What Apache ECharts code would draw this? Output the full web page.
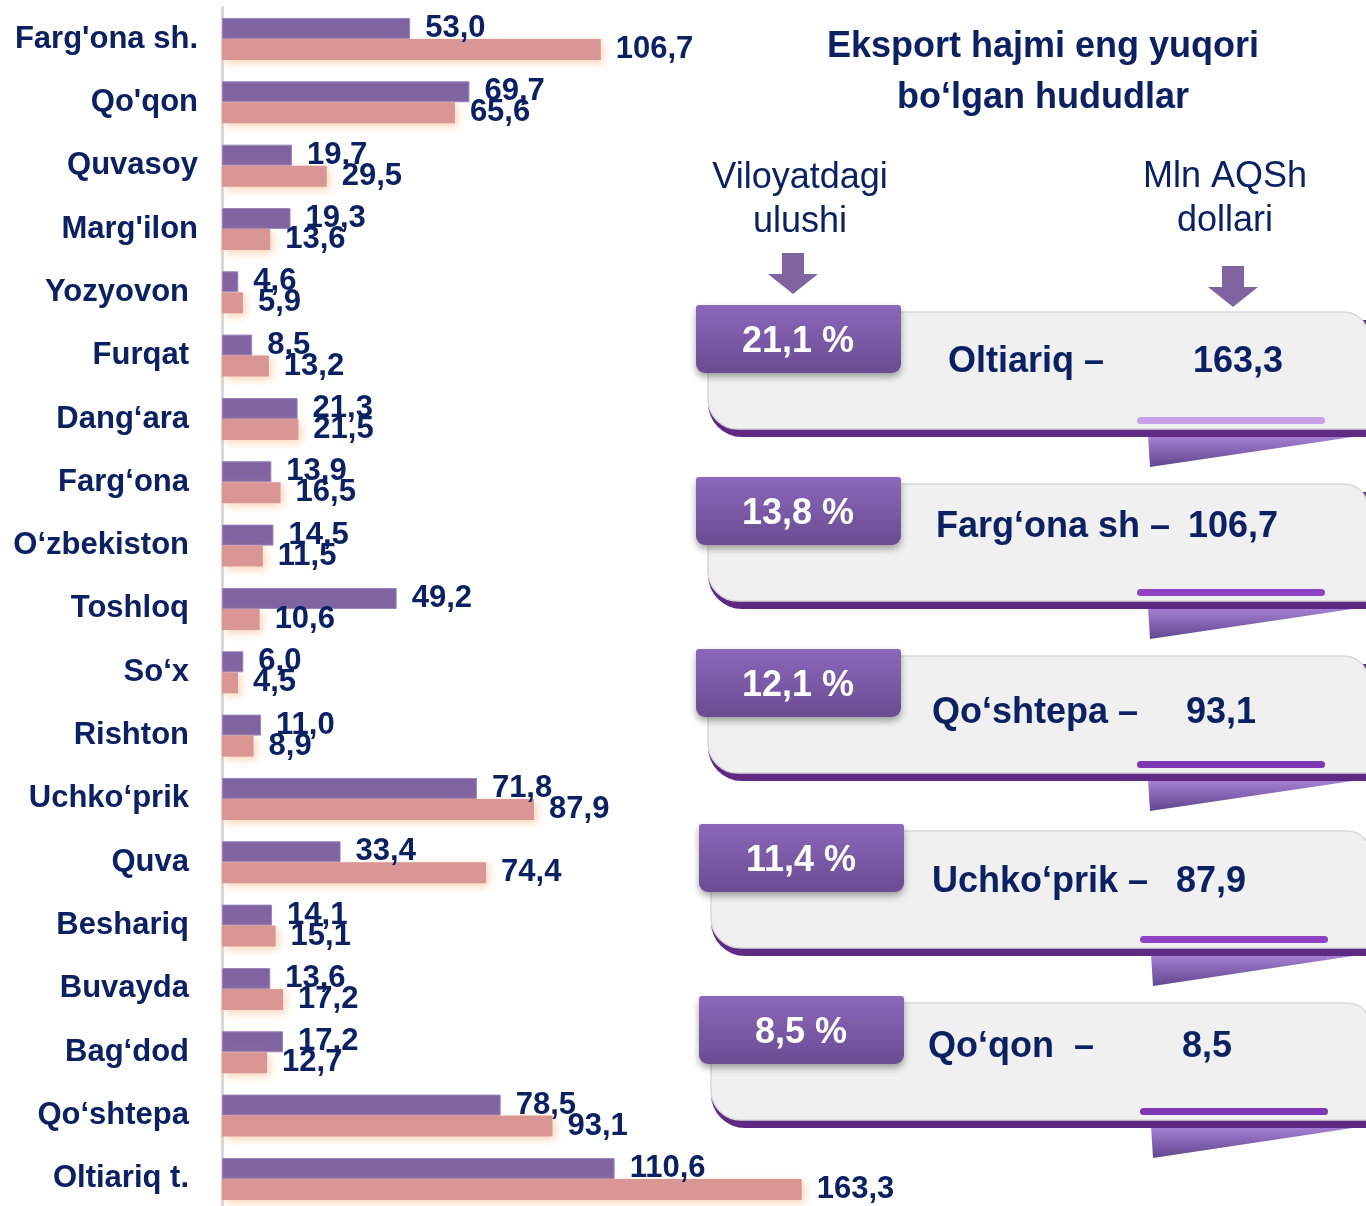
<!DOCTYPE html>
<html>
<head>
<meta charset="utf-8">
<title>Eksport hajmi</title>
<script src="https://cdn.jsdelivr.net/npm/echarts@6/dist/echarts.min.js"></script>
<style>
  html, body { margin: 0; padding: 0; background: #fff; }
  #main { width: 1366px; height: 1206px; }
</style>
</head>
<body>
<div id="main"></div>
<script>
  // hududlar (yuqoridan pastga)
  var regions = ["Farg'ona sh.", "Qo'qon", 'Quvasoy', "Marg'ilon", 'Yozyovon', 'Furqat', 'Dang‘ara',
    'Farg‘ona', 'O‘zbekiston', 'Toshloq', 'So‘x', 'Rishton', 'Uchko‘prik', 'Quva', 'Beshariq',
    'Buvayda', 'Bag‘dod', 'Qo‘shtepa', 'Oltiariq t.'];
  var prevValues = [53.0, 69.7, 19.7, 19.3, 4.6, 8.5, 21.3, 13.9, 14.5, 49.2, 6.0, 11.0, 71.8, 33.4, 14.1, 13.6, 17.2, 78.5, 110.6];
  var currValues = [106.7, 65.6, 29.5, 13.6, 5.9, 13.2, 21.5, 16.5, 11.5, 10.6, 4.5, 8.9, 87.9, 74.4, 15.1, 17.2, 12.7, 93.1, 163.3];

  // eng yuqori hududlar
  var topNames = ['Oltiariq', 'Farg‘ona sh', 'Qo‘shtepa', 'Uchko‘prik', 'Qo‘qon'];
  var topValues = [163.3, 106.7, 93.1, 87.9, 8.5];
  var topShares = [21.1, 13.8, 12.1, 11.4, 8.5];

  var navy = '#0B2162';
  var font = "'Liberation Sans', Arial, sans-serif";

  function fmt(v) {
    return v.toFixed(1).replace('.', ',');
  }

  // kartochkalar joylashuvi
  var cardTop = [305, 477, 649, 824, 996];
  var nameX = [948, 936, 932, 932, 928];
  var valueX = [1193, 1188, 1186, 1176, 1182];
  var textDy = [57, 50, 64, 58, 51];
  var dashSep = [' ', ' ', ' ', ' ', '  '];
  var lineColor = ['#C8A0E6', '#8E44C4', '#7E36B4', '#8E44C4', '#7E36B4'];

  var graphics = [];

  // sarlavha
  graphics.push({
    type: 'text', x: 1043, y: 73,
    style: {
      text: 'Eksport hajmi eng yuqori\nbo‘lgan hududlar', fill: navy, font: 'bold 36px ' + font,
      align: 'center', verticalAlign: 'middle', lineHeight: 51
    }
  });
  graphics.push({
    type: 'text', x: 800, y: 200,
    style: {
      text: 'Viloyatdagi\nulushi', fill: navy, font: '36px ' + font,
      align: 'center', verticalAlign: 'middle', lineHeight: 44
    }
  });
  graphics.push({
    type: 'text', x: 1225, y: 199,
    style: {
      text: 'Mln AQSh\ndollari', fill: navy, font: '36px ' + font,
      align: 'center', verticalAlign: 'middle', lineHeight: 44
    }
  });

  function arrow(cx, top) {
    return {
      type: 'polygon',
      shape: {
        points: [[cx - 11, top], [cx + 11, top], [cx + 11, top + 21], [cx + 25, top + 21],
          [cx, top + 41], [cx - 25, top + 21], [cx - 11, top + 21]]
      },
      style: { fill: '#8064A2' }
    };
  }
  graphics.push(arrow(793, 253));
  graphics.push(arrow(1233, 266));

  topNames.forEach(function (name, i) {
    var t = cardTop[i];
    var dx = i >= 3 ? 3 : 0;
    // buklangan uchi
    graphics.push({
      type: 'polygon',
      shape: { points: [[1148 + dx, t + 130], [1366, t + 130], [1150 + dx, t + 162]] },
      style: {
        fill: new echarts.graphic.LinearGradient(0, 0, 0, 1, [
          { offset: 0, color: '#A883D6' }, { offset: 1, color: '#62468F' }
        ])
      }
    });
    // pastki binafsha chiziq
    graphics.push({
      type: 'rect',
      shape: { x: 708 + dx, y: t + 15, width: 680, height: 117, r: [0, 0, 0, 34] },
      style: { fill: '#5E2A84' }
    });
    // kulrang tana
    graphics.push({
      type: 'rect',
      shape: { x: 708 + dx, y: t + 7, width: 660, height: 117, r: [0, 24, 0, 30] },
      style: { fill: '#F0F0F0', stroke: '#D8D8D8', lineWidth: 1.5 }
    });
    graphics.push({
      type: 'rect',
      shape: { x: 1137 + dx, y: t + 112, width: 188, height: 7, r: 3.5 },
      style: { fill: lineColor[i] }
    });
    // ulush yorlig'i
    graphics.push({
      type: 'rect',
      shape: { x: 696 + dx, y: t, width: 205, height: 68, r: [3, 3, 9, 9] },
      style: {
        fill: new echarts.graphic.LinearGradient(0, 0, 0, 1, [
          { offset: 0, color: '#8C67BA' }, { offset: 1, color: '#694C92' }
        ]),
        shadowBlur: 7, shadowOffsetY: 4, shadowColor: 'rgba(0,0,0,0.35)'
      }
    });
    graphics.push({
      type: 'text', x: 798 + dx, y: t + 37,
      style: {
        text: fmt(topShares[i]) + ' %', fill: '#fff', font: 'bold 36px ' + font,
        align: 'center', verticalAlign: 'middle'
      }
    });
    graphics.push({
      type: 'text', x: nameX[i], y: t + textDy[i],
      style: {
        text: name + dashSep[i] + '–', fill: navy, font: 'bold 36px ' + font,
        align: 'left', verticalAlign: 'middle'
      }
    });
    graphics.push({
      type: 'text', x: valueX[i], y: t + textDy[i],
      style: {
        text: fmt(topValues[i]), fill: navy, font: 'bold 36px ' + font,
        align: 'left', verticalAlign: 'middle'
      }
    });
  });

  var myChart = echarts.init(document.getElementById('main'));
  var option = {
    animation: false,
    grid: { left: 222, top: 7.3, width: 710, height: 1203.3, outerBoundsMode: 'none' },
    xAxis: { type: 'value', min: 0, max: 200, show: false },
    yAxis: {
      type: 'category',
      inverse: true,
      data: regions,
      axisLine: { lineStyle: { color: '#D9D9D9', width: 3 } },
      axisTick: { show: false },
      axisLabel: {
        margin: 24,
        formatter: function (v, idx) {
          return idx < 4 ? '{a|' + v + '}' : '{b|' + v + '}';
        },
        rich: {
          a: { fontFamily: font, fontWeight: 'bold', fontSize: 31, color: navy },
          b: { fontFamily: font, fontWeight: 'bold', fontSize: 31, color: navy, padding: [0, 9, 0, 0] }
        }
      }
    },
    series: [
      {
        name: 'Avvalgi davr',
        type: 'bar',
        data: prevValues,
        barWidth: 21,
        barGap: '0%',
        itemStyle: { color: '#8064A2', borderColor: '#9A84BC', borderWidth: 1 },
        label: {
          show: true, position: 'right', distance: 15,
          formatter: function (p) { return fmt(p.value); },
          fontFamily: font, fontWeight: 'bold', fontSize: 31, color: navy
        }
      },
      {
        name: 'Joriy davr',
        type: 'bar',
        data: currValues,
        barWidth: 21,
        itemStyle: {
          color: '#D99694',
          shadowColor: 'rgba(247,160,90,0.45)', shadowBlur: 8, shadowOffsetX: 3, shadowOffsetY: 3
        },
        label: {
          show: true, position: 'right', distance: 15,
          formatter: function (p) { return fmt(p.value); },
          fontFamily: font, fontWeight: 'bold', fontSize: 31, color: navy
        }
      }
    ],
    graphic: graphics
  };
  myChart.setOption(option);
</script>
</body>
</html>
